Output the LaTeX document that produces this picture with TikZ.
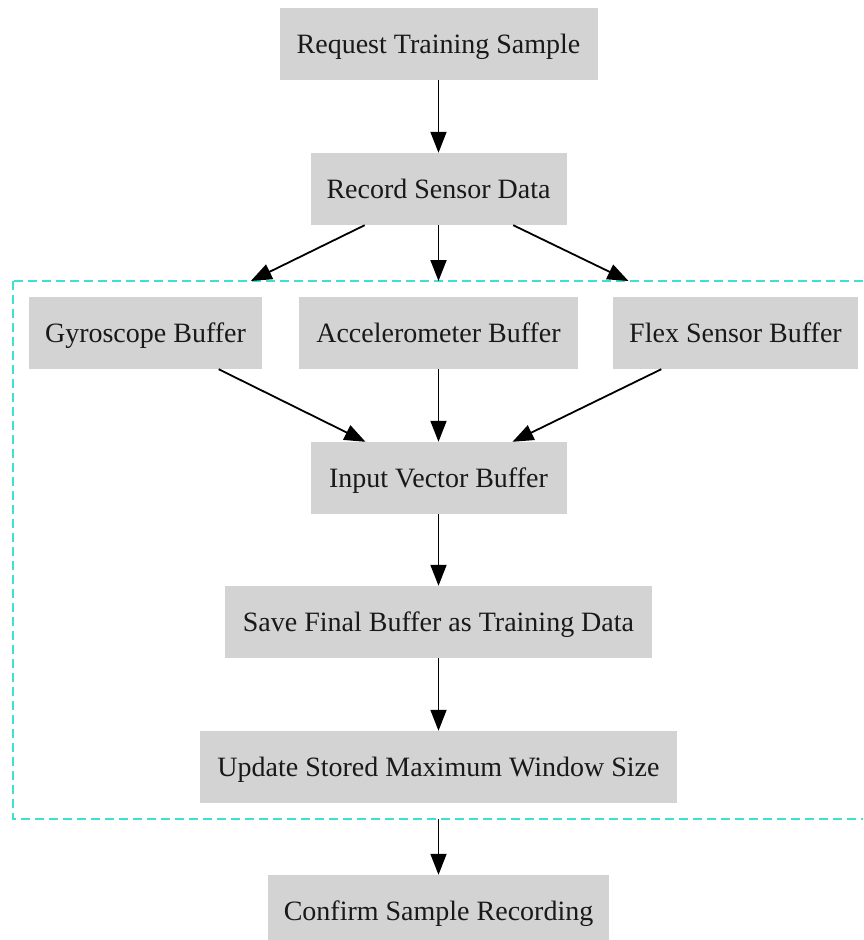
\documentclass[tikz,border=0pt]{standalone}
\usepackage{fontspec}
\setmainfont{Liberation Serif}
\usetikzlibrary{arrows.meta}
\definecolor{boxgray}{HTML}{D3D3D3}
\definecolor{clustercol}{HTML}{40E0D0}
\begin{document}
\begin{tikzpicture}[x=1pt,y=1pt,
  box/.style={fill=boxgray, draw=none, minimum height=72pt, inner sep=0pt,
    text height=22pt, text depth=4pt,
    font=\fontsize{28}{33}\selectfont, text=black!90},
  flow/.style={draw=black, line width=1.8pt, -{Triangle[length=21pt,width=16pt]}},
  cluster/.style={draw=clustercol, line width=1.8pt, dash pattern=on 9pt off 5pt}]
\clip (0,0) rectangle (863,-940);
\node[box, minimum width=318pt] (req) at (438.5,-44) {Request Training Sample};
\node[box, minimum width=256pt] (rec) at (438.5,-189) {Record Sensor Data};
\node[box, minimum width=233pt] (gyro) at (145.5,-333) {Gyroscope Buffer};
\node[box, minimum width=279pt] (acc) at (438.5,-333) {Accelerometer Buffer};
\node[box, minimum width=245pt] (flex) at (735.5,-333) {Flex Sensor Buffer};
\node[box, minimum width=256pt] (inp) at (438.5,-478) {Input Vector Buffer};
\node[box, minimum width=427pt] (save) at (438.5,-622) {Save Final Buffer as Training Data};
\node[box, minimum width=477pt] (upd) at (438.5,-767) {Update Stored Maximum Window Size};
\node[box, minimum width=341pt] (conf) at (438.5,-911) {Confirm Sample Recording};
\draw[cluster] (13,-281) rectangle (880,-819);
\coordinate (cg) at (250.8,-281);
\coordinate (ca) at (438.5,-281);
\coordinate (cf) at (628.5,-281);
\coordinate (cb) at (438.5,-819);
\draw[flow] (req) -- (rec);
\draw[flow] (rec) -- (cg);
\draw[flow] (rec) -- (ca);
\draw[flow] (rec) -- (cf);
\draw[flow] (gyro) -- (inp);
\draw[flow] (acc) -- (inp);
\draw[flow] (flex) -- (inp);
\draw[flow] (inp) -- (save);
\draw[flow] (save) -- (upd);
\draw[flow] (cb) -- (conf);
\end{tikzpicture}
\end{document}
